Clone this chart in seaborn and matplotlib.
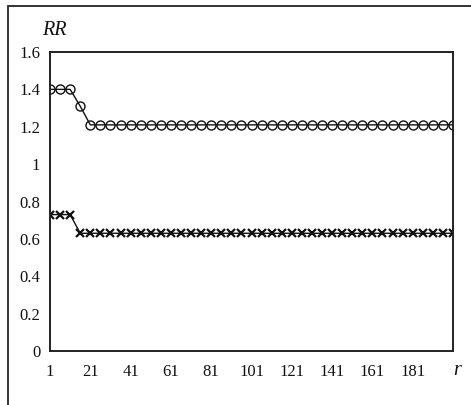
import matplotlib
matplotlib.use("Agg")
import matplotlib.pyplot as plt
from matplotlib.lines import Line2D
import seaborn as sns
import pandas as pd

# Sample points along r (every 5 steps from 1 to 201)
r_values = list(range(1, 202, 5))
rr_circle = [1.40, 1.40, 1.40, 1.31] + [1.21] * (len(r_values) - 4)
rr_cross = [0.73, 0.73, 0.73] + [0.63] * (len(r_values) - 3)

x_ticks = [1, 21, 41, 61, 81, 101, 121, 141, 161, 181]
y_ticks = [0, 0.2, 0.4, 0.6, 0.8, 1, 1.2, 1.4, 1.6]
y_tick_labels = ["0", "0.2", "0.4", "0.6", "0.8", "1", "1.2", "1.4", "1.6"]

sns.set_style("white")
plt.rcParams["font.family"] = ["Liberation Serif", "DejaVu Serif"]

df = pd.DataFrame({"r": r_values, "circle": rr_circle, "cross": rr_cross})

fig = plt.figure(figsize=(4.71, 4.05), dpi=100)
ax = fig.add_axes([50 / 471, 54 / 405, 403 / 471, 299 / 405])

sns.lineplot(data=df, x="r", y="circle", ax=ax, color="#111111", linewidth=1.0,
             marker="o", markersize=6.5, markerfacecolor="none",
             markeredgecolor="#111111", markeredgewidth=1.0)
sns.lineplot(data=df, x="r", y="cross", ax=ax, color="#111111", linewidth=1.0,
             marker="x", markersize=6, markeredgecolor="#111111",
             markeredgewidth=1.6)

ax.set_xlim(1, 201)
ax.set_ylim(0, 1.6)
ax.set_xticks(x_ticks)
ax.set_xticklabels([str(t) for t in x_ticks])
ax.set_yticks(y_ticks)
ax.set_yticklabels(y_tick_labels)
ax.set_xlabel("")
ax.set_ylabel("")
ax.tick_params(axis="both", direction="out", length=3, width=0.8,
               colors="#222222", labelsize=12, pad=4)
ax.tick_params(axis="x", pad=6)
for lbl in ax.get_xticklabels() + ax.get_yticklabels():
    lbl.set_color("#111111")

for side in ["left", "right", "top", "bottom"]:
    ax.spines[side].set_visible(True)
    ax.spines[side].set_color("#222222")
    ax.spines[side].set_linewidth(1.4)

ax.text(-0.02, 1.072, "RR", transform=ax.transAxes, fontsize=14.5,
        style="italic", ha="left", va="center", color="#111111")
ax.text(1.01, -0.065, "r", transform=ax.transAxes, fontsize=14.5,
        style="italic", ha="center", va="center", color="#111111")

# Outer frame (top and left edges)
fig.add_artist(Line2D([8 / 471, 1.0], [1 - 6 / 405, 1 - 6 / 405],
                      transform=fig.transFigure, color="#333333", linewidth=1.4))
fig.add_artist(Line2D([8 / 471, 8 / 471], [0.0, 1 - 6 / 405],
                      transform=fig.transFigure, color="#333333", linewidth=1.4))

fig.savefig("out.png", dpi=100, facecolor="white")
